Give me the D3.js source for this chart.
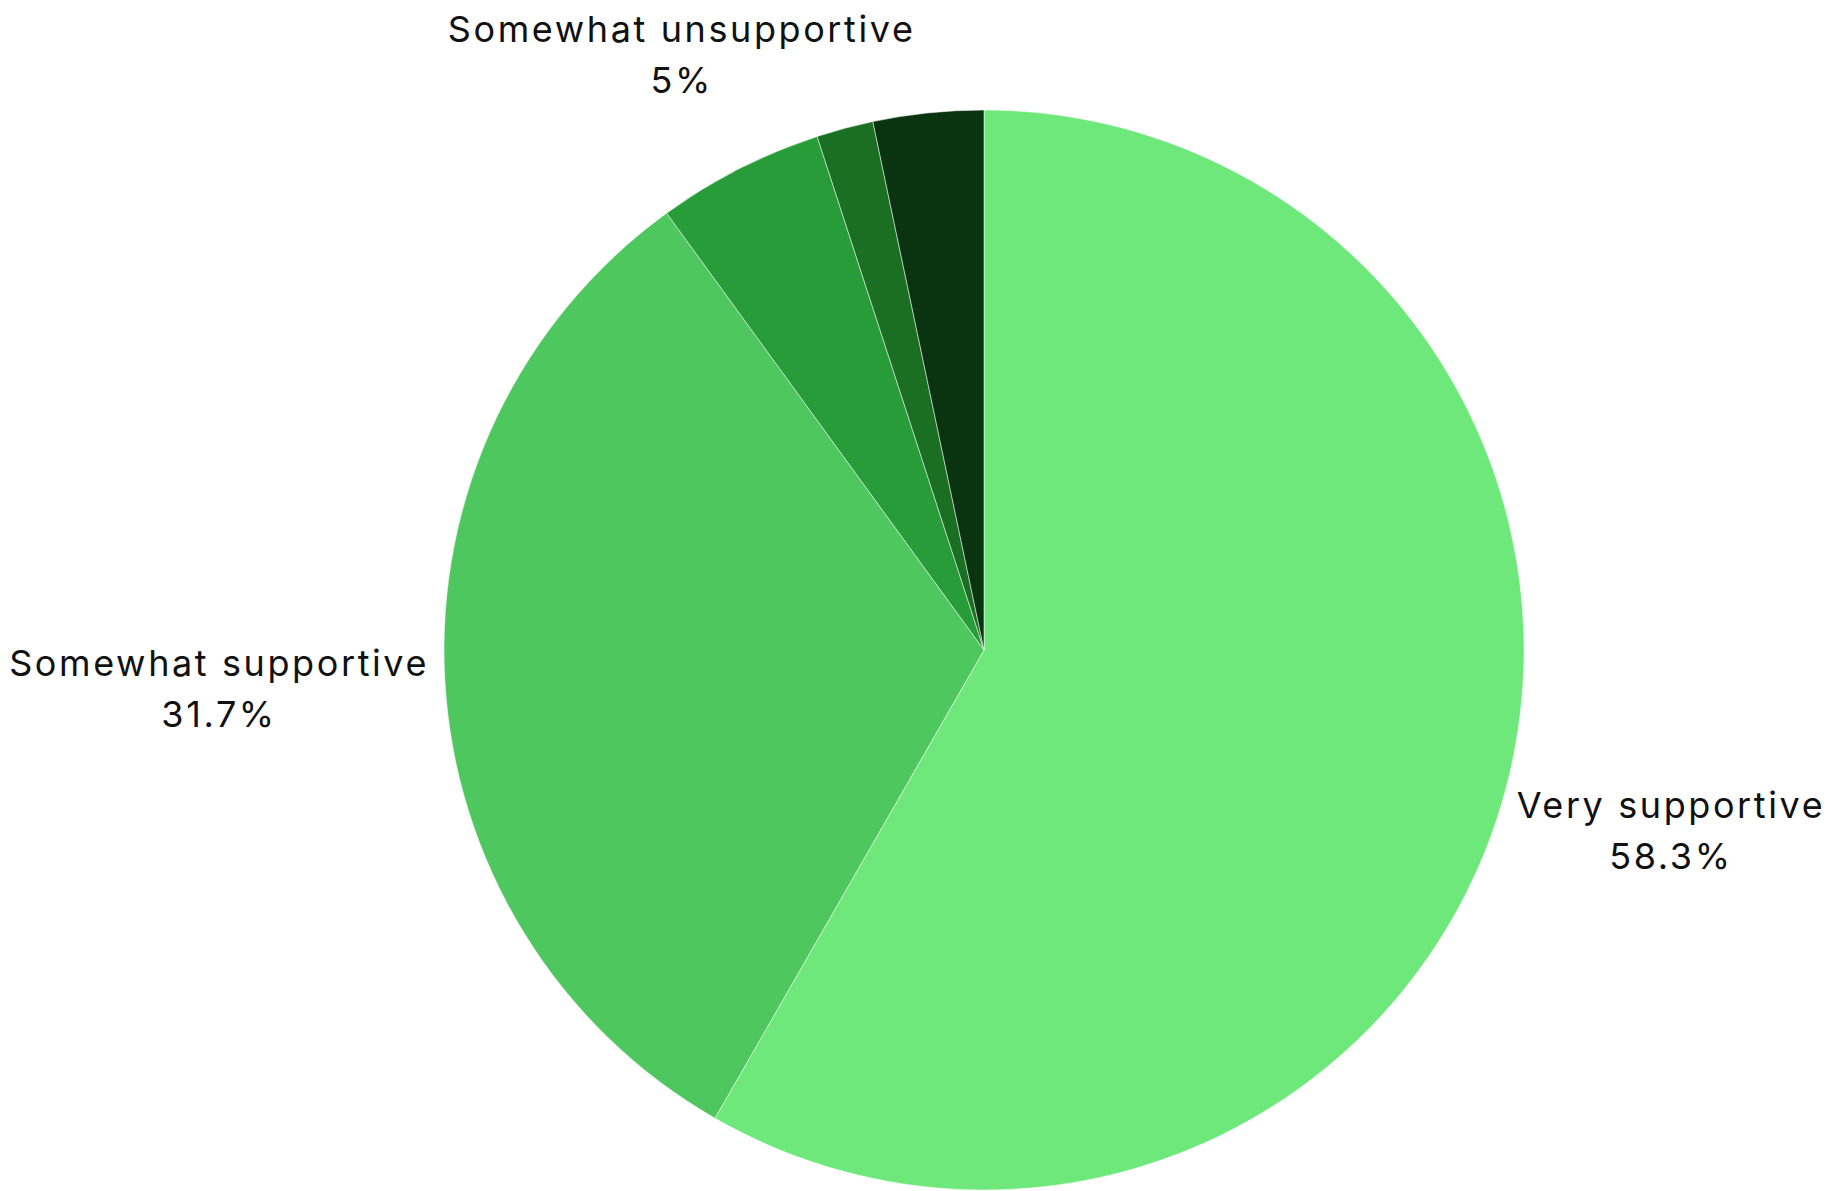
<!DOCTYPE html>
<html>
<head>
<meta charset="utf-8">
<script src="https://cdn.jsdelivr.net/npm/d3@7"></script>
<style>
  html, body { margin: 0; padding: 0; background: #ffffff; }
  svg { display: block; }
  text { font-family: "Inter", "Noto Sans", sans-serif; fill: #111; }
</style>
</head>
<body>
<svg id="chart" width="1829" height="1191"></svg>
<script>
// ---- data ----
const categories = ["Very supportive", "Somewhat supportive", "Somewhat unsupportive", "Very unsupportive", "Not sure"];
const values = [58.3, 31.7, 5, 1.7, 3.3];
const valueLabels = ["58.3%", "31.7%", "5%", "1.7%", "3.3%"];
const showLabel = [true, true, true, false, false];
const colors = ["#6ee87b", "#4ec75e", "#289c38", "#1a6f22", "#0a3410"];

// ---- layout ----
const W = 1829, H = 1191;
const cx = 984, cy = 650, r = 540;
const labelRadius = [711, 766, 666, 600, 600];

const svg = d3.select("#chart");
const g = svg.append("g").attr("transform", `translate(${cx},${cy})`);

const pie = d3.pie().sort(null).value(d => d.v);
const data = categories.map((c, i) => ({ c, v: values[i], lab: valueLabels[i], show: showLabel[i], i }));
const arcs = pie(data);
const arc = d3.arc().innerRadius(0).outerRadius(r);

g.selectAll("path").data(arcs).join("path")
  .attr("d", arc)
  .attr("fill", d => colors[d.data.i])
  .attr("stroke", "#ffffff")
  .attr("stroke-opacity", 0.5)
  .attr("stroke-width", 1);

const fs = 36;
const labels = g.selectAll("g.lab").data(arcs.filter(d => d.data.show)).join("g").attr("class", "lab")
  .attr("transform", d => {
    const a = (d.startAngle + d.endAngle) / 2;
    const R = labelRadius[d.data.i];
    return `translate(${R * Math.sin(a)},${-R * Math.cos(a)})`;
  });
labels.append("text")
  .attr("text-anchor", "middle")
  .attr("font-size", fs)
  .attr("letter-spacing", "2.6px")
  .attr("y", -15)
  .text(d => d.data.c);
labels.append("text")
  .attr("text-anchor", "middle")
  .attr("font-size", fs)
  .attr("letter-spacing", "2.6px")
  .attr("y", 36)
  .text(d => d.data.lab);
</script>
</body>
</html>
